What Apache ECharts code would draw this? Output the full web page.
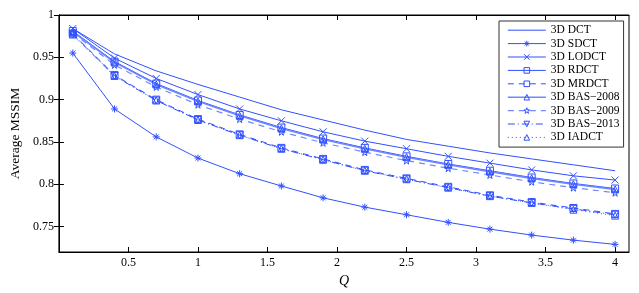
<!DOCTYPE html>
<html><head><meta charset="utf-8">
<script src="https://cdn.jsdelivr.net/npm/echarts@6/dist/echarts.min.js"></script>
<style>html,body{margin:0;padding:0;background:#fff}#c{width:639px;height:293px}</style>
</head><body><div id="c"></div>
<script>
const Q = [0.1,0.4,0.7,1.0,1.3,1.6,1.9,2.2,2.5,2.8,3.1,3.4,3.7,4.0];
const dct     = [0.984,0.954,0.934,0.918,0.903,0.888,0.876,0.864,0.853,0.845,0.837,0.830,0.823,0.816];
const sdct    = [0.955,0.889,0.856,0.831,0.8125,0.798,0.784,0.773,0.764,0.755,0.747,0.740,0.734,0.729];
const lodct   = [0.984,0.949,0.925,0.906,0.889,0.875,0.862,0.851,0.842,0.833,0.825,0.817,0.810,0.805];
const rdct    = [0.981,0.945,0.919,0.899,0.882,0.867,0.854,0.843,0.833,0.824,0.816,0.808,0.801,0.795];
const mrdct   = [0.978,0.929,0.900,0.877,0.859,0.843,0.830,0.817,0.807,0.797,0.787,0.779,0.772,0.765];
const bas2008 = [0.980,0.944,0.918,0.898,0.881,0.866,0.853,0.842,0.832,0.823,0.815,0.807,0.800,0.794];
const bas2009 = [0.979,0.941,0.915,0.894,0.877,0.862,0.849,0.838,0.828,0.819,0.811,0.803,0.796,0.790];
const bas2013 = [0.977,0.928,0.899,0.876,0.858,0.842,0.829,0.816,0.806,0.796,0.786,0.778,0.771,0.764];
const iadct   = [0.977,0.928,0.899,0.876,0.858,0.842,0.829,0.816,0.806,0.796,0.786,0.778,0.770,0.763];
const names = ['3D DCT','3D SDCT','3D LODCT','3D RDCT','3D MRDCT','3D BAS\u22122008','3D BAS\u22122009','3D BAS\u22122013','3D IADCT'];
const xTicks = [0.5,1,1.5,2,2.5,3,3.5,4];
const yTicks = [0.75,0.8,0.85,0.9,0.95,1];

const BLUE = '#3050ff', LIGHT = '#6f88ff', CLEAR = 'rgba(0,0,0,0)';
const SYM = {
  none: 'rect',
  ast: 'path://M5,0L5,10M0,5L10,5M1.5,1.5L8.5,8.5M1.5,8.5L8.5,1.5',
  x: 'path://M0,0L10,10M0,10L10,0',
  sq: 'rect',
  tri: 'triangle',
  star: 'path://M5,0L6.12,3.46L9.76,3.45L6.81,5.59L7.94,9.05L5,6.9L2.06,9.05L3.19,5.59L0.24,3.45L3.88,3.46Z',
  dtri: 'path://M0,0L10,0L5,9Z'
};
const defs = [
  [dct, 'none', 'solid', BLUE, 1],
  [sdct, 'ast', 'solid', BLUE, 1],
  [lodct, 'x', 'solid', BLUE, 1],
  [rdct, 'sq', 'solid', BLUE, 1],
  [mrdct, 'sq', [6,5], BLUE, 1],
  [bas2008, 'tri', 'solid', LIGHT, 1.6],
  [bas2009, 'star', [6,5], LIGHT, 1.2],
  [bas2013, 'dtri', [7,3,1,3], BLUE, 1],
  [iadct, 'tri', [1,3], BLUE, 1]
];
const itemSt = d => ({ color: CLEAR, borderColor: d[1] === 'none' ? CLEAR : BLUE, borderWidth: 1 });
const lineSt = d => ({ color: d[3], width: d[4], type: d[2] });
const series = defs.map((d, i) => ({
  name: names[i], type: 'line',
  data: Q.map((q, k) => [q, d[0][k]]),
  symbol: SYM[d[1]], symbolSize: 7, showSymbol: d[1] !== 'none',
  lineStyle: lineSt(d),
  itemStyle: itemSt(d),
  emphasis: { disabled: true }, animation: false, z: 2
}));
const font = 'Liberation Serif, Times New Roman, serif';
const chart = echarts.init(document.getElementById('c'));
chart.setOption({
  animation: false,
  grid: { left: 47, right: 10, top: 15, bottom: 36, show: true, borderColor: '#000', borderWidth: 1 },
  legend: {
    orient: 'vertical', left: 499, top: 21,
    backgroundColor: '#fff', borderColor: '#333', borderWidth: 1,
    padding: [2.5, 4, 3, 8], itemWidth: 38, itemHeight: 7, itemGap: 0,
    textStyle: { fontFamily: font, fontSize: 11.5, color: '#000', lineHeight: 13.4 },
    data: names.map((n, i) => ({ name: n, itemStyle: itemSt(defs[i]), lineStyle: lineSt(defs[i]) }))
  },
  xAxis: [{
    type: 'value', min: 0, max: 4.1,
    name: 'Q', nameLocation: 'middle', nameGap: 22,
    nameTextStyle: { fontFamily: font, fontSize: 14, fontStyle: 'italic', color: '#000' },
    axisLine: { lineStyle: { color: '#000' } },
    axisTick: { inside: true, length: 5, lineStyle: { color: '#000' }, customValues: xTicks },
    axisLabel: { fontFamily: font, fontSize: 12, color: '#000', margin: 5, customValues: xTicks,
      formatter: v => String(v) },
    splitLine: { show: false }
  }, {
    type: 'value', min: 0, max: 4.1, position: 'top',
    axisLine: { lineStyle: { color: '#000' } },
    axisTick: { inside: true, length: 5, lineStyle: { color: '#000' }, customValues: xTicks },
    axisLabel: { show: false }, splitLine: { show: false }
  }],
  yAxis: [{
    type: 'value', min: 0.72, max: 1,
    name: 'Average MSSIM', nameLocation: 'middle', nameGap: 32,
    nameTextStyle: { fontFamily: font, fontSize: 13.5, color: '#000' },
    axisLine: { lineStyle: { color: '#000' } },
    axisTick: { inside: true, length: 5, lineStyle: { color: '#000' }, customValues: yTicks },
    axisLabel: { fontFamily: font, fontSize: 12, color: '#000', margin: 5, customValues: yTicks,
      formatter: v => String(v) },
    splitLine: { show: false }
  }, {
    type: 'value', min: 0.72, max: 1, position: 'right',
    axisLine: { lineStyle: { color: '#000' } },
    axisTick: { inside: true, length: 5, lineStyle: { color: '#000' }, customValues: yTicks },
    axisLabel: { show: false }, splitLine: { show: false }
  }],
  series: series
});
</script></body></html>
